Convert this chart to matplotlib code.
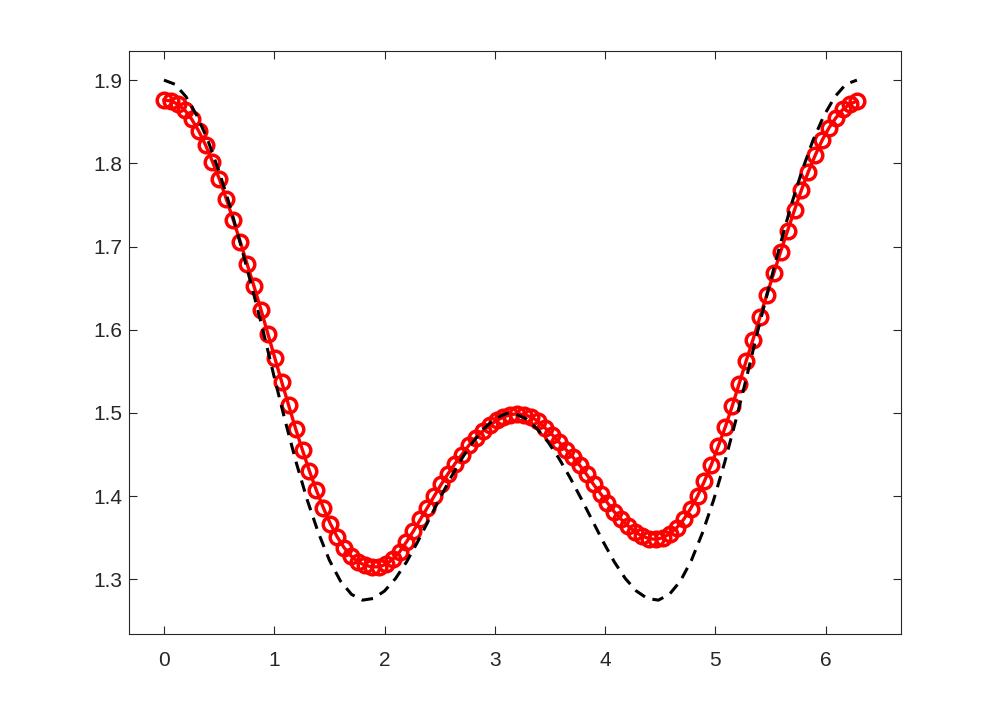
import matplotlib.pyplot as plt
import numpy as np

plt.rcParams['font.family'] = ['Liberation Sans', 'DejaVu Sans']

# red circles: 101 samples on [0, 2pi]
red_x = np.linspace(0, 2 * np.pi, 101)
red_y = [
    1.876, 1.875, 1.871, 1.864, 1.853, 1.839, 1.822, 1.802, 1.781, 1.757,
    1.732, 1.706, 1.679, 1.652, 1.624, 1.595, 1.566, 1.537, 1.509, 1.481,
    1.455, 1.430, 1.407, 1.386, 1.367, 1.351, 1.338, 1.328, 1.321, 1.317,
    1.315, 1.315, 1.318, 1.324, 1.333, 1.345, 1.358, 1.372, 1.386, 1.400,
    1.414, 1.427, 1.439, 1.450, 1.461, 1.470, 1.478, 1.485, 1.491, 1.495,
    1.498, 1.499, 1.498, 1.495, 1.490, 1.482, 1.474, 1.465, 1.456, 1.447,
    1.437, 1.426, 1.414, 1.403, 1.392, 1.381, 1.372, 1.364, 1.357, 1.352,
    1.349, 1.348, 1.350, 1.355, 1.362, 1.372, 1.385, 1.400, 1.418, 1.438,
    1.460, 1.483, 1.508, 1.535, 1.562, 1.588, 1.615, 1.642, 1.668, 1.694,
    1.719, 1.744, 1.768, 1.790, 1.810, 1.828, 1.843, 1.855, 1.865, 1.871,
    1.875,
]

# black dashed reference curve
black_x = [
    0.0, 0.1, 0.2, 0.3, 0.4, 0.5, 0.6, 0.7, 0.8, 0.9, 1.0, 1.1, 1.2, 1.3, 1.4, 1.5,
    1.6, 1.7, 1.8, 1.9, 2.0, 2.1, 2.2, 2.3, 2.4, 2.5, 2.6, 2.7, 2.8, 2.9, 3.0, 3.1,
    3.1416,
    3.1832, 3.2832, 3.3832, 3.4832, 3.5832, 3.6832, 3.7832, 3.8832, 3.9832, 4.0832,
    4.1832, 4.2832, 4.3832, 4.4832, 4.5832, 4.6832, 4.7832, 4.8832, 4.9832, 5.0832,
    5.1832, 5.2832, 5.3832, 5.4832, 5.5832, 5.6832, 5.7832, 5.8832, 5.9832, 6.0832,
    6.1832, 6.2832,
]
black_y = [
    1.900, 1.895, 1.880, 1.857, 1.827, 1.790, 1.748, 1.700, 1.650, 1.598, 1.543, 1.490,
    1.440, 1.395, 1.356, 1.323, 1.298, 1.282, 1.275, 1.277, 1.286, 1.301, 1.321, 1.345,
    1.371, 1.397, 1.422, 1.445, 1.465, 1.481, 1.493, 1.499,
    1.500,
    1.499, 1.493, 1.481, 1.465, 1.445, 1.422, 1.397, 1.371, 1.345, 1.321, 1.301, 1.286,
    1.277, 1.275, 1.282, 1.298, 1.323, 1.356, 1.395, 1.440, 1.490, 1.543, 1.598, 1.650,
    1.700, 1.748, 1.790, 1.827, 1.857, 1.880, 1.895, 1.900,
]

x_ticks = [0, 1, 2, 3, 4, 5, 6]
y_ticks = [1.3, 1.4, 1.5, 1.6, 1.7, 1.8, 1.9]

fig = plt.figure(figsize=(9.97, 7.13), dpi=100)
ax = fig.add_axes([0.1297, 0.1108, 0.774, 0.8177])

ax.plot(red_x, red_y, '-o', color='red', linewidth=2.4, markersize=10.5,
        markerfacecolor='none', markeredgewidth=2.5)
line, = ax.plot(black_x, black_y, '--', color='black', linewidth=2.2)
line.set_dashes((3.8, 2.6))

ax.set_xlim(-0.3142, 6.683)
ax.set_ylim(1.2343, 1.935)
ax.set_xticks(x_ticks)
ax.set_yticks(y_ticks)
ax.set_xticklabels([str(t) for t in x_ticks])
ax.set_yticklabels(['%.1f' % t for t in y_ticks])

grey = '#262626'
for s in ax.spines.values():
    s.set_color(grey)
    s.set_linewidth(0.8)
ax.tick_params(direction='in', length=5.8, width=0.8, colors=grey,
               labelsize=15, top=True, right=True)
ax.tick_params(axis='x', pad=12)
ax.tick_params(axis='y', pad=5)

plt.savefig('out.png', dpi=100)
